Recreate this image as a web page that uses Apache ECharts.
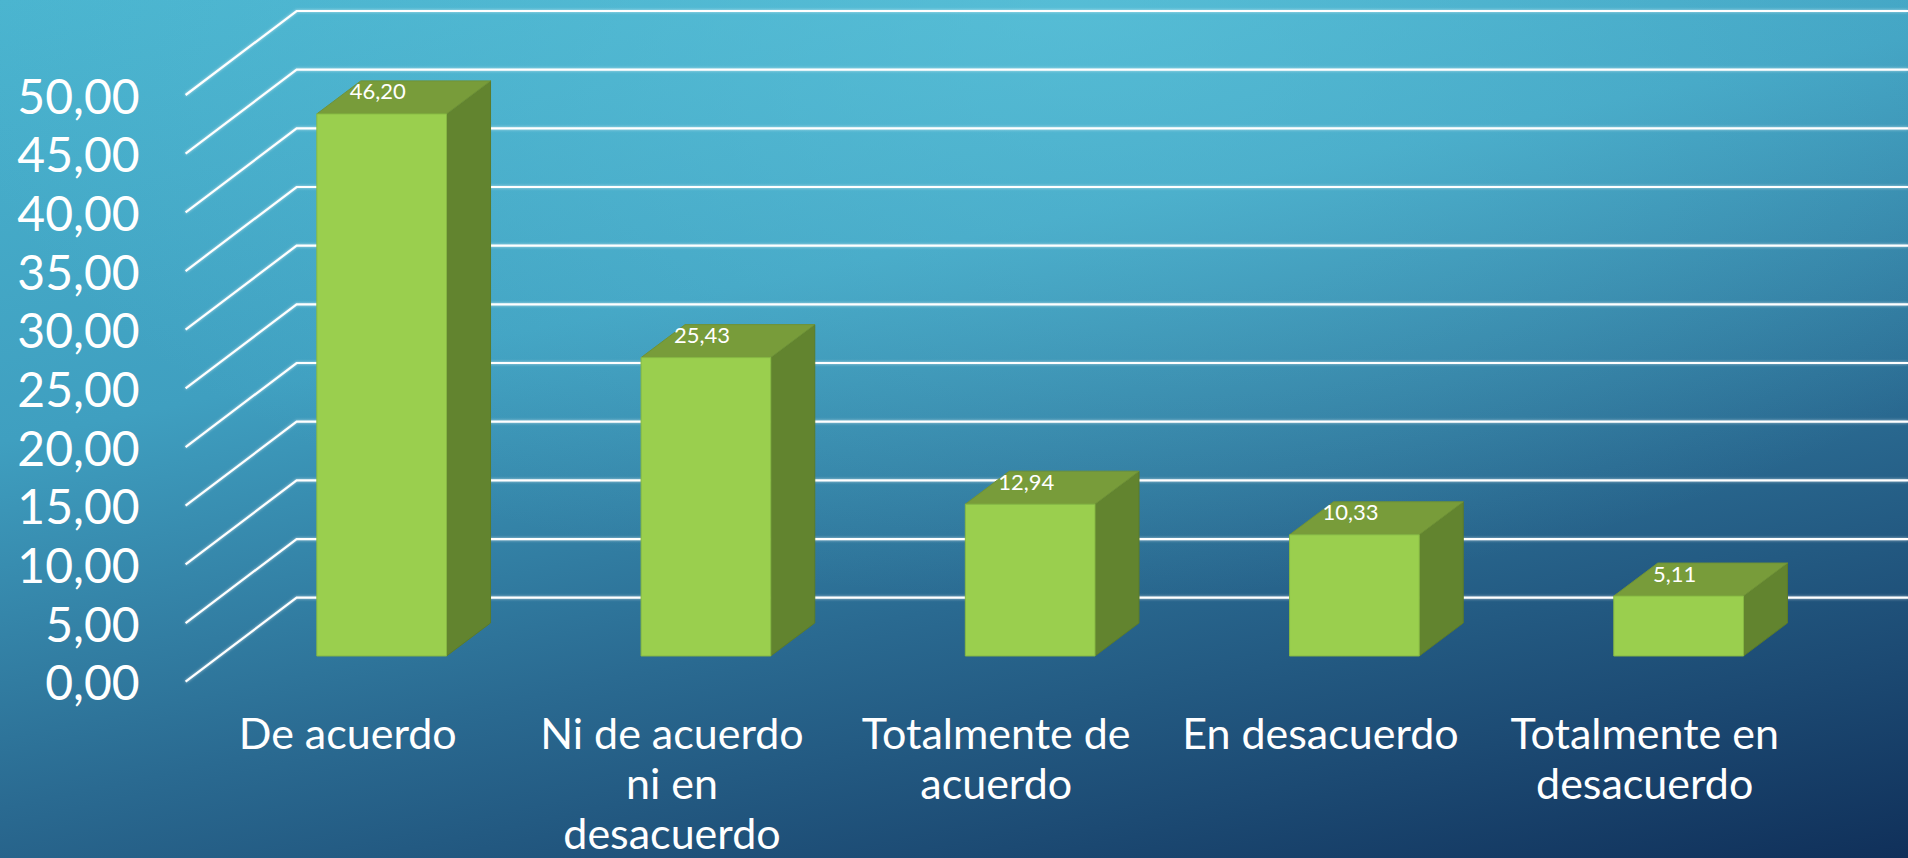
<!DOCTYPE html>
<html>
<head>
<meta charset="utf-8">
<script src="https://cdn.jsdelivr.net/npm/echarts@6/dist/echarts.min.js"></script>
<style>
html,body{margin:0;padding:0;width:1908px;height:858px;overflow:hidden;}
body{
  background:
    radial-gradient(ellipse 60% 70% at 56% 0%, rgba(100,205,225,0.55) 0%, rgba(100,205,225,0) 100%),
    linear-gradient(168deg, #4ab4cf 0%, #3f9fc0 35%, #2a6a91 64%, #1c4a73 84%, #10305a 100%);
}
#chart{width:1908px;height:858px;}
</style>
</head>
<body>
<div id="chart"></div>
<script>
// ---- data ----
var categories = ['De acuerdo', 'Ni de acuerdo\nni en\ndesacuerdo', 'Totalmente de\nacuerdo', 'En desacuerdo', 'Totalmente en\ndesacuerdo'];
var values = [46.20, 25.43, 12.94, 10.33, 5.11];
var yTicks = [0, 5, 10, 15, 20, 25, 30, 35, 40, 45, 50];
var yTickLabels = ['0,00', '5,00', '10,00', '15,00', '20,00', '25,00', '30,00', '35,00', '40,00', '45,00', '50,00'];

// ---- 3D look parameters ----
var DEPTH_X = 111, DEPTH_Y = 84;      // floor depth (front plane -> back wall)
var BAR_OFF = 0.306;                  // bar front face position in depth
var BAR_DX = 44, BAR_DY = 33;         // bar depth
var FONT = 'Lato, "Noto Sans", sans-serif';

function fmt(v) { return v.toFixed(2).replace('.', ','); }

var chart = echarts.init(document.getElementById('chart'), null, {renderer: 'svg'});

var option = {
  backgroundColor: 'transparent',
  animation: false,
  grid: {left: 185.6, right: 101.2, top: 95, bottom: 176.3, containLabel: false, outerBoundsMode: 'none'},
  xAxis: {
    type: 'category',
    data: categories,
    axisLine: {show: false},
    axisTick: {show: false},
    splitLine: {show: false},
    axisLabel: {
      interval: 0,
      color: '#ffffff',
      fontFamily: FONT,
      fontSize: 43,
      lineHeight: 50,
      margin: 26,
      verticalAlign: 'top',
      align: 'center'
    }
  },
  yAxis: {
    type: 'value',
    min: 0,
    max: 50,
    interval: 5,
    axisLine: {show: false},
    axisTick: {show: false},
    splitLine: {show: false},
    axisLabel: {
      color: '#ffffff',
      fontFamily: FONT,
      fontSize: 48,
      margin: 46,
      formatter: function (v) {
        var i = yTicks.indexOf(v);
        return i >= 0 ? yTickLabels[i] : fmt(v);
      }
    }
  },
  series: [
    {
      name: 'walls',
      type: 'custom',
      silent: true,
      z: 1,
      data: yTicks,
      renderItem: function (params, api) {
        var v = api.value(0);
        var y = api.coord([0, v])[1];
        var x0 = params.coordSys.x;
        return {
          type: 'polyline',
          shape: {points: [[x0, y], [x0 + DEPTH_X, y - DEPTH_Y], [api.getWidth(), y - DEPTH_Y]]},
          style: {stroke: '#ffffff', lineWidth: 2.2, fill: null,
                  shadowBlur: 3, shadowColor: 'rgba(255,255,255,0.6)'}
        };
      },
      encode: {y: 0}
    },
    {
      name: 'bars',
      type: 'custom',
      z: 5,
      data: values.map(function (v, i) { return [i, v]; }),
      encode: {x: 0, y: 1},
      renderItem: function (params, api) {
        var idx = api.value(0), v = api.value(1);
        var top = api.coord([idx, v]);
        var base = api.coord([idx, 0]);
        var band = api.size([1, 0])[0];
        var w = band * 0.4;
        var sx = BAR_OFF * DEPTH_X, sy = -BAR_OFF * DEPTH_Y;
        var L = top[0] + sx - w / 2, R = top[0] + sx + w / 2;
        var T = top[1] + sy, B = base[1] + sy;
        return {
          type: 'group',
          children: [
            {type: 'polygon', shape: {points: [[R, T], [R + BAR_DX, T - BAR_DY], [R + BAR_DX, B - BAR_DY], [R, B]]},
             style: {fill: '#62842f', stroke: '#5b7b2b', lineWidth: 1}},
            {type: 'polygon', shape: {points: [[L, T], [R, T], [R + BAR_DX, T - BAR_DY], [L + BAR_DX, T - BAR_DY]]},
             style: {fill: '#789c3a', stroke: '#6f9236', lineWidth: 1}},
            {type: 'rect', shape: {x: L, y: T, width: R - L, height: B - T},
             style: {fill: '#9acf4e', stroke: '#86b843', lineWidth: 1}},
            {type: 'text', x: top[0] + sx - 4, y: T - 23,
             style: {text: fmt(v), fill: '#ffffff', font: '22px ' + FONT, align: 'center', verticalAlign: 'middle'}}
          ]
        };
      }
    }
  ]
};
chart.setOption(option);
</script>
</body>
</html>
